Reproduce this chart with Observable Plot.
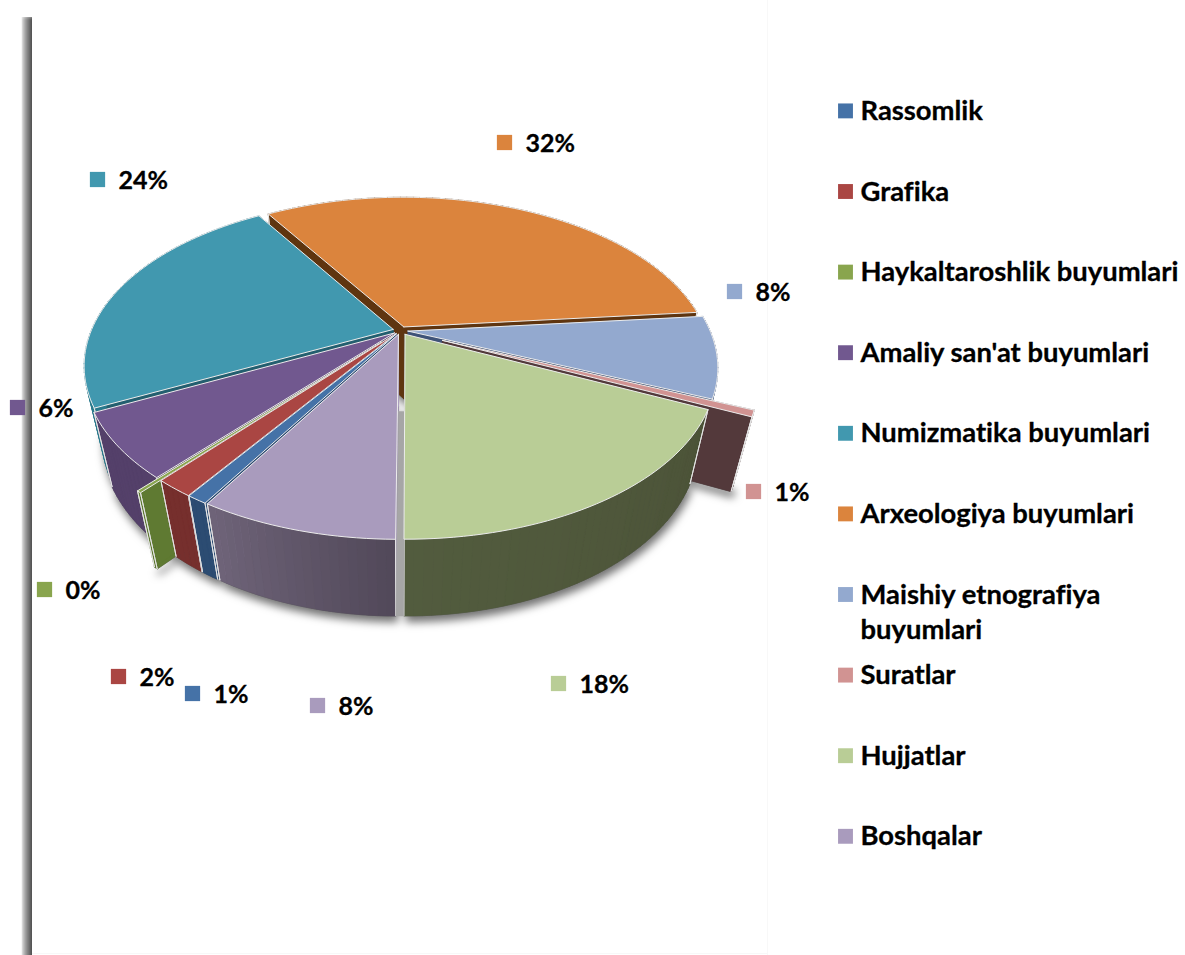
<!DOCTYPE html>
<html>
<head>
<meta charset="utf-8">
<script src="https://cdn.jsdelivr.net/npm/d3@7"></script>
<script src="https://cdn.jsdelivr.net/npm/@observablehq/plot@0.6"></script>
<style>
html,body{margin:0;padding:0;background:#fff}
svg{display:block}
svg text{font-variant-ligatures:none}
.pie-shadow{filter:drop-shadow(2px 6px 4px rgba(0,0,0,.55))}
.soft-cover{filter:blur(2px)}
</style>
</head>
<body>
<div id="chart"></div>
<script>
// ---- data
const categories = ["Rassomlik","Grafika","Haykaltaroshlik buyumlari","Amaliy san'at buyumlari","Numizmatika buyumlari","Arxeologiya buyumlari","Maishiy etnografiya\nbuyumlari","Suratlar","Hujjatlar","Boshqalar"];
const shares = [0.9,1.7,0.2,6.25,23.5,32.4,7.9,0.6,18.1,8.45];
const shareLabels = ["1%","2%","0%","6%","24%","32%","8%","1%","18%","8%"];

// ---- styles
const topColors = ["#4572a7","#aa4643","#89a54e","#71588f","#4198af","#db843d","#93a9cf","#d19392","#b9cd96","#a99bbd"];
const wallFrom  = ["#2c4c72","#762f2d","#5f7a32","#54406a","#2a7a8d","#5f3510","#5c6f92","#53393b","#4c5338","#514859"];
const wallTo    = ["#2c4c72","#762f2d","#5f7a32","#54406a","#2a7a8d","#5f3510","#5c6f92","#53393b","#525c3e","#6f6479"];
const cutColors = ["#2c4c72","#762f2d","#5f7a32","#54406a","#235f6f","#5f3510","#3f5378","#53393b","#4c5338","#a99bbd"];
const explode   = [0.025,0.025,0.095,0.025,0.025,0.025,0.025,0.15,0.028,0.025];
const paintOrder = [5,4,6,7,3,2,1,0,9,8];

// ---- layout
const W = 1185, H = 955;
const cam = {cx:400, cy:330, A:302, B:159, C:76, k:0.215, m:0.0565, start:-149.24};
const labelPos = [[192,693],[118,676],[44,589],[17,407],[97,179],[504,142],[734,291],[753,491],[558,683],[317,705]];
const legendX = 845, legendTextX = 860, legendTop = 110.4, legendStep = 80.6;

// ---- geometry through a perspective camera
const rad = d => d*Math.PI/180;
function project(theta, r, h, e, mid){
  const X = r*Math.sin(rad(theta)) + e*Math.sin(rad(mid));
  const Z = r*Math.cos(rad(theta)) + e*Math.cos(rad(mid));
  const d = 1 + cam.k*Z + cam.m*h;
  return [cam.cx + cam.A*X/d, cam.cy + (-cam.B*Z + cam.C*h)/d];
}
const total = d3.sum(shares);
let acc = cam.start;
const slices = shares.map((v,i)=>{
  const a = acc, b = acc + v/total*360; acc = b;
  return {i, a, b, mid:(a+b)/2, e:explode[i]};
});
function arcAngles(a,b){
  const n = Math.max(1, Math.ceil((b-a)/1.5));
  return d3.range(n+1).map(j=>a+(b-a)*j/n);
}
let pid = 0;
const polys = [], shadowPolys = [];
function addPoly(list, pts, fill, stroke, sw){
  const id = pid++;
  const closed = pts.concat([pts[0]]);
  closed.forEach(p=>list.push({id, x:p[0], y:p[1], fill, stroke, sw}));
}
const rimEdge = "#e4e4e4";
paintOrder.forEach(idx=>{
  const s = slices[idx];
  const P = (t,r,h)=>project(t,r,h,s.e,s.mid);
  const angles = arcAngles(s.a,s.b);
  // footprint of the slice for the soft ground shadow
  addPoly(shadowPolys, [P(s.a,0,1)].concat(angles.map(t=>P(t,1,1))), "#555", "#555", 0.5);
  // two cut faces
  [s.a,s.b].forEach(t=>{
    addPoly(polys,[P(t,0,0),P(t,1,0),P(t,1,1),P(t,0,1)],cutColors[idx],cutColors[idx],0.5);
  });
  // curved wall in small shaded strips
  const shade = d3.interpolateRgb(wallFrom[idx], wallTo[idx]);
  for(let j=0;j<angles.length-1;j++){
    const t0=angles[j], t1=angles[j+1];
    const c = shade(Math.min(1,Math.abs((t0+t1)/2 - s.a)/(s.b-s.a||1)));
    addPoly(polys,[P(t0,1,0),P(t1,1,0),P(t1,1,1),P(t0,1,1)],c,c,0.6);
  }
  // light edge of the front wall
  addPoly(polys,[P(s.a,1,0),P(s.a,1,1),P(s.a,1,0)],"none",rimEdge,1);
  addPoly(polys,[P(s.b,1,0),P(s.b,1,1),P(s.b,1,0)],"none",rimEdge,1);
  // gap between the last two slices seen edge-on
  if(idx===8){
    const l = slices[9];
    const Pl=(t,r,h)=>project(t,r,h,l.e,l.mid);
    addPoly(polys,[Pl(l.a,0.03,1),P(s.b,0.03,1),P(s.b,1,1),Pl(l.a,1,1)],"#a6a6a6","#a6a6a6",0.5);
  }
  // top face
  addPoly(polys,[P(s.a,0,0)].concat(angles.map(t=>P(t,1,0))),topColors[idx],"#ececec",1);
});

const labels = slices.map((s,i)=>({i, mx:labelPos[i][0], my:labelPos[i][1], text:shareLabels[i]}));
const legendRows = categories.map((c,i)=>({
  c, i, ym: legendTop + i*legendStep,
  yt: legendTop + i*legendStep - 2.5 + (c.includes("\n") ? 18 : 0)
}));
const shadowStrip = d3.range(21,32).map(x=>({x, f:d3.interpolateRgb("#f6f6f6","#555")(Math.pow((x-21)/10,0.7))}));

const opts = {x:"x", y:"y"};
const plot = Plot.plot({
  width:W, height:H, margin:0,
  x:{domain:[0,W], range:[0,W], axis:null},
  y:{domain:[0,H], range:[0,H], axis:null},
  color:{type:"identity"},
  style:{background:"#fff", fontFamily:"Lato, 'Open Sans', sans-serif"},
  marks:[
    // frame shadow on the left
    Plot.rect(shadowStrip,{x1:"x",x2:d=>d.x+1,y1:()=>17,y2:()=>H,fill:d=>d.f}),
    Plot.rect([0],{x1:()=>15,x2:()=>36,y1:()=>0,y2:()=>16,fill:()=>"#fff",className:"soft-cover"}),
    // faint page edges
    Plot.ruleX([767],{stroke:()=>"#f8f8f8"}),
    Plot.ruleY([953],{x1:()=>32,x2:()=>767,stroke:()=>"#f8f8f8"}),
    // soft shadow, then the pie
    Plot.line(shadowPolys,{...opts,z:"id",fill:d=>d.fill,stroke:d=>d.stroke,strokeWidth:d=>d.sw,className:"pie-shadow"}),
    Plot.line(polys,{...opts,z:"id",fill:d=>d.fill,stroke:d=>d.stroke,strokeWidth:d=>d.sw}),
    // data labels
    Plot.dot(labels,{x:"mx",y:"my",symbol:"square",r:8.6,fill:d=>topColors[d.i],stroke:()=>"none"}),
    Plot.text(labels,{x:d=>d.mx+21,y:d=>d.my+1,text:"text",textAnchor:"start",lineAnchor:"middle",fontSize:25,fontWeight:700,fill:()=>"#000",stroke:()=>"#000",strokeWidth:0.3}),
    // legend
    Plot.dot(legendRows,{x:()=>legendX,y:"ym",symbol:"square",r:8.4,fill:d=>topColors[d.i],stroke:()=>"none"}),
    Plot.text(legendRows,{x:()=>legendTextX,y:"yt",text:"c",textAnchor:"start",lineAnchor:"middle",lineHeight:1.31,fontSize:27.4,fontWeight:700,fill:()=>"#000",stroke:()=>"#000",strokeWidth:0.3})
  ]
});
document.getElementById("chart").appendChild(plot);
</script>
</body>
</html>
